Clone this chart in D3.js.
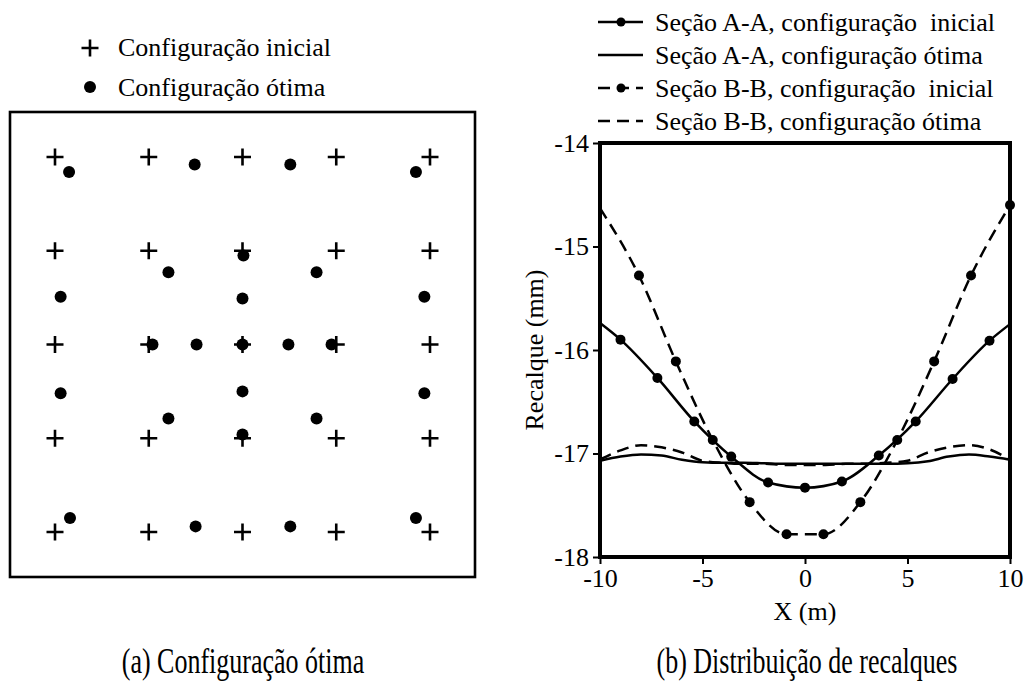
<!DOCTYPE html>
<html>
<head>
<meta charset="utf-8">
<script src="https://cdn.jsdelivr.net/npm/d3@7"></script>
<style>
  body { margin: 0; background: #fff; }
  svg text { font-family: "Liberation Serif", "Times New Roman", serif; font-size: 26px; fill: #000; white-space: pre; }
</style>
</head>
<body>
<div class="chart"></div>
<script>
// (a) pile positions, in metres
const initX = [-10, -5, 0, 5, 10];
const initY = [-10, -5, 0, 5, 10];
const optX = [-9.25, 9.25, -2.55, 2.55, 0.05, -3.95, 3.95, -9.7, 0, 9.7, -4.8, -2.45, 0, 2.45, 4.75, -9.7, 0, 9.7, -3.95, 3.95, 0, -9.2, 9.25, -2.5, 2.55];
const optY = [9.2, 9.2, 9.6, 9.6, 4.75, 3.85, 3.85, 2.55, 2.45, 2.55, 0, 0, 0, 0, 0, -2.6, -2.5, -2.6, -3.95, -3.95, -4.8, -9.25, -9.25, -9.7, -9.7];

// (b) settlements
const aaInitX = [-10, -9, -7.2, -5.4, -3.6, -1.8, 0, 1.8, 3.6, 5.4, 7.2, 9, 10];
const aaInitY = [-15.74, -15.90, -16.27, -16.69, -17.03, -17.28, -17.33, -17.27, -17.02, -16.69, -16.28, -15.91, -15.75];
const bbInitX = [-10, -8.1, -6.3, -4.5, -2.7, -0.9, 0.9, 2.7, 4.5, 6.3, 8.1, 10];
const bbInitY = [-14.63, -15.28, -16.11, -16.87, -17.47, -17.78, -17.78, -17.47, -16.87, -16.11, -15.28, -14.6];
const optCurveX = [-10, -9, -8, -7, -6, -5, -4, -3, -2, -1, 0, 1, 2, 3, 4, 5, 6, 7, 8, 9, 10];
const aaOptY = [-17.07, -17.03, -17.01, -17.02, -17.06, -17.085, -17.09, -17.09, -17.095, -17.10, -17.10, -17.10, -17.10, -17.10, -17.10, -17.095, -17.075, -17.03, -17.01, -17.03, -17.06];
const bbOptY = [-17.06, -16.97, -16.92, -16.94, -16.99, -17.07, -17.09, -17.10, -17.10, -17.11, -17.11, -17.11, -17.10, -17.10, -17.09, -17.07, -16.99, -16.94, -16.92, -16.96, -17.06];
const xTicks = [-10, -5, 0, 5, 10];
const yTicks = [-14, -15, -16, -17, -18];

const legendA = ["Configuração inicial", "Configuração ótima"];
const legendB = ["Seção A-A, configuração  inicial", "Seção A-A, configuração ótima", "Seção B-B, configuração  inicial", "Seção B-B, configuração ótima"];
const captions = ["(a) Configuração ótima", "(b) Distribuição de recalques"];

const svg = d3.select('.chart')
    .append('svg')
    .attr('width', 1029)
    .attr('height', 689);

function plus(g, cx, cy, h) {
    g.append('path')
        .attr('d', `M${cx - h},${cy}H${cx + h}M${cx},${cy - h}V${cy + h}`)
        .attr('stroke', 'black')
        .attr('stroke-width', 2.6);
}

// ---------- (a) ----------
const pa = svg.append('g');
const xa = d3.scaleLinear().domain([-12.4, 12.4]).range([10, 475]);
const ya = d3.scaleLinear().domain([-12.4, 12.4]).range([577, 112]);

pa.append('rect')
    .attr('x', xa(-12.4)).attr('y', ya(12.4))
    .attr('width', xa(12.4) - xa(-12.4))
    .attr('height', ya(-12.4) - ya(12.4))
    .attr('fill', 'none')
    .attr('stroke', 'black')
    .attr('stroke-width', 2.6);

initY.forEach(yy => initX.forEach(xx => plus(pa, xa(xx), ya(yy), 8.5)));

pa.selectAll('circle.opt')
    .data(optX)
    .enter()
    .append('circle')
    .attr('class', 'opt')
    .attr('cx', d => xa(d))
    .attr('cy', (d, i) => ya(optY[i]))
    .attr('r', 6)
    .attr('fill', 'black');

// legend (a)
plus(pa, 90, 48, 8.5);
pa.append('circle').attr('cx', 90).attr('cy', 87).attr('r', 6).attr('fill', 'black');
pa.selectAll('text.leg')
    .data(legendA)
    .enter()
    .append('text')
    .attr('class', 'leg')
    .attr('x', 118)
    .attr('y', (d, i) => 56 + i * 40)
    .text(d => d);

// ---------- (b) ----------
const pb = svg.append('g');
const x = d3.scaleLinear().domain([-10, 10]).range([600, 1010]);
const y = d3.scaleLinear().domain([-18, -14]).range([557, 143]);

const line = d3.line()
    .x(d => x(d[0]))
    .y(d => y(d[1]))
    .curve(d3.curveMonotoneX);

const series = [
    {xs: aaInitX, ys: aaInitY, dash: null, marks: aaInitX.slice(1, -1)},
    {xs: optCurveX, ys: aaOptY, dash: null, marks: []},
    {xs: bbInitX, ys: bbInitY, dash: '12,7', marks: bbInitX.slice(1)},
    {xs: optCurveX, ys: bbOptY, dash: '12,7', marks: []}
];

series.forEach(s => {
    const pts = s.xs.map((v, i) => [v, s.ys[i]]);
    pb.append('path')
        .attr('d', line(pts))
        .attr('fill', 'none')
        .attr('stroke', 'black')
        .attr('stroke-width', 2.5)
        .attr('stroke-dasharray', s.dash);
    pb.selectAll(null)
        .data(pts.filter(p => s.marks.includes(p[0])))
        .enter()
        .append('circle')
        .attr('cx', d => x(d[0]))
        .attr('cy', d => y(d[1]))
        .attr('r', 5)
        .attr('fill', 'black');
});

const xAxis = d3.axisBottom(x).tickValues(xTicks).tickSize(7).tickPadding(5).tickFormat(d => String(d));
const yAxis = d3.axisLeft(y).tickValues(yTicks).tickSize(7).tickPadding(4).tickFormat(d => String(d));

const gx = pb.append('g')
    .attr('transform', 'translate(0,' + y(-18) + ')')
    .call(xAxis);
const gy = pb.append('g')
    .attr('transform', 'translate(' + x(-10) + ',0)')
    .call(yAxis);
[gx, gy].forEach(g => {
    g.select('.domain').remove();
    g.selectAll('.tick line').attr('stroke-width', 2);
});

pb.append('rect')
    .attr('x', x(-10)).attr('y', y(-14))
    .attr('width', x(10) - x(-10))
    .attr('height', y(-18) - y(-14))
    .attr('fill', 'none')
    .attr('stroke', 'black')
    .attr('stroke-width', 4);

pb.append('text')
    .attr('x', x(0))
    .attr('y', 620)
    .attr('text-anchor', 'middle')
    .text('X (m)');

pb.append('text')
    .attr('transform', 'translate(543,' + ((y(-14) + y(-18)) / 2) + ') rotate(-90)')
    .attr('text-anchor', 'middle')
    .text('Recalque (mm)');

// legend (b)
const lg = pb.selectAll('g.leg')
    .data(legendB)
    .enter()
    .append('g')
    .attr('class', 'leg')
    .attr('transform', (d, i) => 'translate(0,' + (22 + i * 33) + ')');
lg.append('line')
    .attr('x1', 598).attr('x2', 643)
    .attr('stroke', 'black')
    .attr('stroke-width', 2.5)
    .attr('stroke-dasharray', (d, i) => series[i].dash);
lg.filter((d, i) => i % 2 === 0)
    .append('circle')
    .attr('cx', 621).attr('r', 4.5)
    .attr('fill', 'black');
lg.append('text')
    .attr('x', 655)
    .attr('y', 9)
    .text(d => d);

// captions: narrow, tall lettering
svg.selectAll('text.cap')
    .data(captions)
    .enter()
    .append('text')
    .attr('class', 'cap')
    .attr('transform', (d, i) => 'translate(' + [243, 807][i] + ',673) scale(1,1.35)')
    .attr('text-anchor', 'middle')
    .text(d => d);
</script>
</body>
</html>
